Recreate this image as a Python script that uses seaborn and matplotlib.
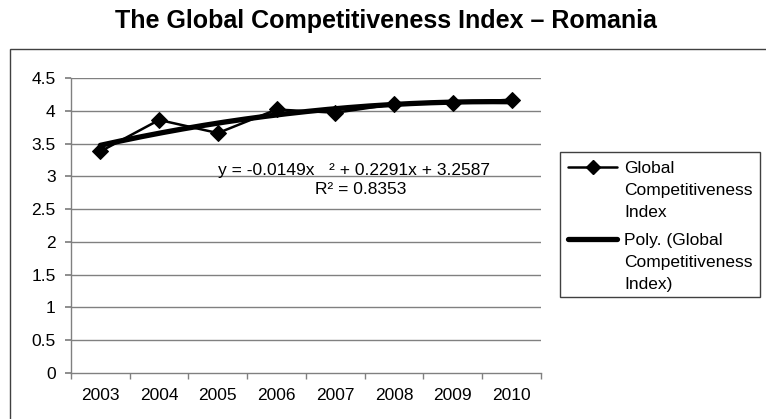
import numpy as np
import pandas as pd
import matplotlib
matplotlib.use("Agg")
import matplotlib.pyplot as plt
from matplotlib.lines import Line2D
from matplotlib.patches import Rectangle
import seaborn as sns

years = ["2003", "2004", "2005", "2006", "2007", "2008", "2009", "2010"]
gci = [3.38, 3.86, 3.66, 4.02, 3.97, 4.10, 4.12, 4.17]
# second-order trend coefficients (x = 1 for the first year)
poly_a, poly_b, poly_c = -0.0149, 0.2291, 3.2587
r_squared = 0.8353
y_ticks = [0, 0.5, 1, 1.5, 2, 2.5, 3, 3.5, 4, 4.5]
legend_labels = [["Global", "Competitiveness", "Index"],
                 ["Poly. (Global", "Competitiveness", "Index)"]]

sns.set_theme(style="white")
plt.rcParams["font.family"] = ["Liberation Sans", "DejaVu Sans"]
plt.rcParams["text.color"] = "black"
plt.rcParams["xtick.color"] = "black"
plt.rcParams["ytick.color"] = "black"

FS = 12.5
W, H = 766, 419
fig = plt.figure(figsize=(W / 100, H / 100), dpi=100)


def fx(px):
    return px / W


def fy(py):
    return 1 - py / H


ax = fig.add_axes([fx(71), fy(373), (541 - 71) / W, (373 - 78) / H])

# outer chart frame
fig.patches.append(Rectangle((fx(10), -0.1), 1.2, fy(49) + 0.1,
                             transform=fig.transFigure, fill=False,
                             edgecolor="#404040", linewidth=1.0, zorder=0))

df = pd.DataFrame({"pos": np.arange(len(years)), "gci": gci})
xs = np.linspace(0, len(years) - 1, 200)
xn = xs + 1
trend = pd.DataFrame({"pos": xs, "val": poly_a * xn ** 2 + poly_b * xn + poly_c})

for yv in y_ticks[1:]:
    ax.axhline(yv, color="#808080", linewidth=1.0, zorder=1)

sns.lineplot(data=df, x="pos", y="gci", ax=ax, color="black", linewidth=1.8,
             marker="D", markersize=8, markeredgecolor="black", zorder=3)
sns.lineplot(data=trend, x="pos", y="val", ax=ax, color="black",
             linewidth=3.8, zorder=4)

ax.set_xlim(-0.5, len(years) - 0.5)
ax.set_ylim(0, 4.5)
ax.set_yticks(y_ticks)
ax.set_yticklabels([f"{v:g}" for v in y_ticks], fontsize=FS)
ax.set_xticks(np.arange(len(years)))
ax.set_xticklabels(years, fontsize=FS)
ax.set_xticks(np.arange(len(years) + 1) - 0.5, minor=True)
ax.tick_params(axis="x", which="major", length=0, pad=11)
ax.tick_params(axis="x", which="minor", length=4, direction="out",
               color="#808080", bottom=True)
ax.tick_params(axis="y", length=4, direction="out", color="#808080",
               left=True, pad=7)
ax.set_xlabel("")
ax.set_ylabel("")
for s in ("top", "right"):
    ax.spines[s].set_visible(False)
for s in ("left", "bottom"):
    ax.spines[s].set_color("#808080")
    ax.spines[s].set_linewidth(1.0)

fig.text(fx(386), fy(21), "The Global Competitiveness Index \u2013 Romania",
         ha="center", va="center", fontsize=18, fontweight="bold")

fig.text(fx(218), fy(175),
         f"y = {poly_a:.4f}x   \u00b2 + {poly_b:.4f}x + {poly_c:.4f}",
         ha="left", va="baseline", fontsize=FS)
fig.text(fx(315), fy(194), f"R\u00b2 = {r_squared:.4f}",
         ha="left", va="baseline", fontsize=FS)

# legend box with each key aligned to the first line of its label
fig.patches.append(Rectangle((fx(560), fy(297)), (760 - 560) / W, (297 - 152) / H,
                             transform=fig.transFigure, facecolor="white",
                             edgecolor="#404040", linewidth=1.0, zorder=5))
key_styles = [dict(linewidth=1.8, marker="D", markersize=7, markevery=[1]),
              dict(linewidth=3.8)]
entry_top = [167, 239]
line_step = 22
for lines, top, style in zip(legend_labels, entry_top, key_styles):
    fig.add_artist(Line2D([fx(568), fx(592.5), fx(617)], [fy(top)] * 3,
                          transform=fig.transFigure, color="black",
                          zorder=6, **style))
    for i, txt in enumerate(lines):
        fig.text(fx(624), fy(top + i * line_step), txt, ha="left",
                 va="center_baseline", fontsize=FS, zorder=6)

fig.savefig("out.png", dpi=100)
